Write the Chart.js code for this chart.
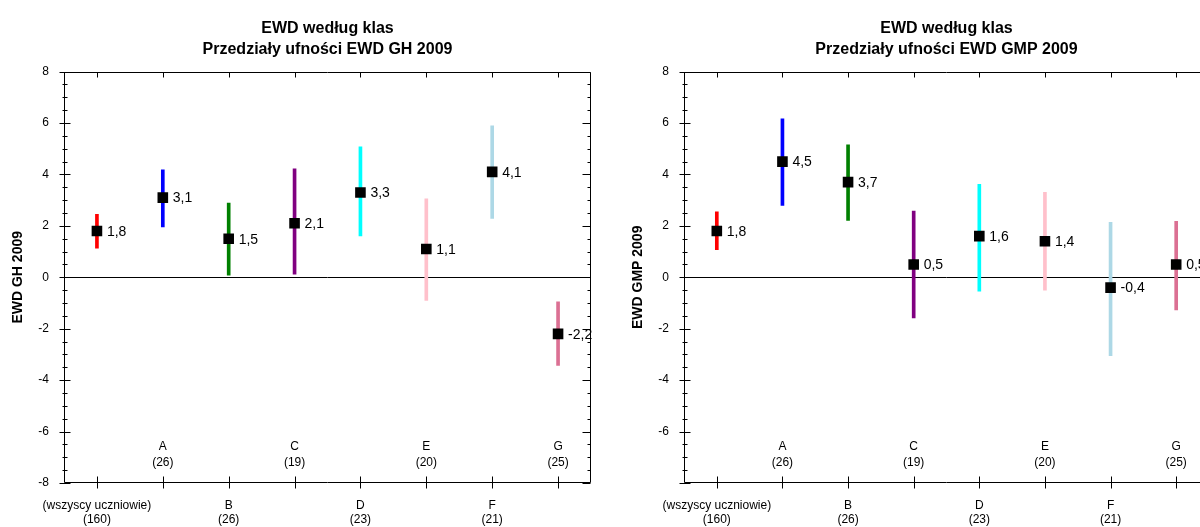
<!DOCTYPE html>
<html>
<head>
<meta charset="utf-8">
<script src="https://cdn.jsdelivr.net/npm/chart.js@4/dist/chart.umd.min.js"></script>
<style>
  html, body { margin: 0; padding: 0; background: #fff; }
  body { width: 1200px; height: 527px; overflow: hidden; position: relative; }
  .wykres { position: absolute; top: 0; width: 600px; height: 527px; }
</style>
</head>
<body>
<div class="wykres" style="left:0px"><canvas id="wykresGH"></canvas></div>
<div class="wykres" style="left:620px"><canvas id="wykresGMP"></canvas></div>
<script>
// klasy i liczba uczniow
var klasy = [
  ["(wszyscy uczniowie)", "(160)"],
  ["A", "(26)"],
  ["B", "(26)"],
  ["C", "(19)"],
  ["D", "(23)"],
  ["E", "(20)"],
  ["F", "(21)"],
  ["G", "(25)"]
]
var kolory = ["#ff0000", "#0000ff", "#008000", "#800080", "#00ffff", "#ffc0cb", "#add8e6", "#db7093"]

// EWD GH 2009
var ghWartosci = [1.8, 3.1, 1.5, 2.1, 3.3, 1.1, 4.1, -2.2]
var ghDolne = [1.13, 1.96, 0.08, 0.12, 1.61, -0.9, 2.29, -3.43]
var ghGorne = [2.45, 4.18, 2.89, 4.22, 5.07, 3.05, 5.89, -0.95]

// EWD GMP 2009
var gmpWartosci = [1.8, 4.5, 3.7, 0.5, 1.6, 1.4, -0.4, 0.5]
var gmpDolne = [1.07, 2.8, 2.21, -1.58, -0.54, -0.5, -3.05, -1.27]
var gmpGorne = [2.55, 6.16, 5.15, 2.58, 3.62, 3.3, 2.14, 2.18]

var osY = { min: -8, max: 8, krok: 0.5, co: 2 }

Chart.defaults.font.family = "'Liberation Sans', Arial, sans-serif"
Chart.defaults.color = "#000"

// ramka, kreski na osiach, etykiety wartosci i klas wewnatrz wykresu
var dodatki = {
  id: "dodatki",
  afterDatasetsDraw: function (chart) {
    var ctx = chart.ctx
    var a = chart.chartArea
    var sx = chart.scales.x
    var sy = chart.scales.y
    ctx.save()
    ctx.strokeStyle = "#000"
    ctx.lineWidth = 1
    var L = Math.round(a.left) + 0.5, R = Math.round(a.right) - 0.5
    var T = Math.round(a.top) + 0.5, B = Math.round(a.bottom) - 0.5
    ctx.beginPath()
    ctx.rect(L, T, R - L, B - T)
    ctx.stroke()

    ctx.beginPath()
    sy.ticks.forEach(function (t, i) {
      var y = Math.round(sy.getPixelForTick(i)) + 0.5
      var duza = t.value % osY.co === 0
      if (duza) {
        ctx.moveTo(L - 5, y); ctx.lineTo(L + 6, y)
        ctx.moveTo(R - 8, y); ctx.lineTo(R, y)
      } else {
        ctx.moveTo(L - 2, y); ctx.lineTo(L + 3, y)
        ctx.moveTo(R - 3, y); ctx.lineTo(R, y)
      }
    })
    sx.ticks.forEach(function (t, i) {
      var x = Math.round(sx.getPixelForTick(i)) + 0.5
      ctx.moveTo(x, B - 6); ctx.lineTo(x, B + 6)
      ctx.moveTo(x, T); ctx.lineTo(x, T + 5)
    })
    ctx.stroke()

    // klasy nieparzyste nad osia
    ctx.fillStyle = "#000"
    ctx.font = "12px 'Liberation Sans', Arial, sans-serif"
    ctx.textAlign = "center"
    ctx.textBaseline = "middle"
    klasy.forEach(function (k, i) {
      if (i % 2 === 1) {
        var x = sx.getPixelForTick(i)
        ctx.fillText(k[0], x, a.bottom - 36)
        ctx.fillText(k[1], x, a.bottom - 20)
      }
    })

    // wartosci przy punktach
    var meta = chart.getDatasetMeta(1)
    var wart = chart.data.datasets[1].data
    ctx.font = "14px 'Liberation Sans', Arial, sans-serif"
    ctx.textAlign = "left"
    meta.data.forEach(function (p, i) {
      ctx.fillText(String(wart[i]).replace(".", ","), p.x + 10, p.y + 1)
    })
    ctx.restore()
  }
}

function rysuj(id, tytul, tytulY, wartosci, dolne, gorne, prawyOdstep, pokazDol) {
  new Chart(document.getElementById(id), {
    type: "bar",
    data: {
      labels: klasy,
      datasets: [{
        data: dolne.map(function (d, i) { return [d, gorne[i]] }),
        backgroundColor: kolory,
        barThickness: 3,
        grouped: false,
        order: 2
      }, {
        type: "line",
        data: wartosci,
        showLine: false,
        pointStyle: "rect",
        pointRadius: 7.5,
        pointBackgroundColor: "#000",
        pointBorderWidth: 0,
        order: 1
      }]
    },
    options: {
      responsive: true,
      maintainAspectRatio: false,
      animation: false,
      events: [],
      layout: { padding: { right: prawyOdstep, top: 0, bottom: 0, left: 0 } },
      plugins: {
        legend: { display: false },
        tooltip: { enabled: false },
        title: {
          display: true,
          fullSize: false,
          text: tytul,
          color: "#000",
          font: { size: 16, weight: "bold", lineHeight: 1.3 },
          padding: { top: 18, bottom: 12 }
        }
      },
      scales: {
        x: {
          offset: true,
          grid: { display: false },
          border: { display: false },
          ticks: {
            autoSkip: false,
            maxRotation: 0,
            padding: 8,
            font: { size: 12, lineHeight: 1.15 },
            callback: function (v, i) { return i % 2 === 0 ? klasy[i] : "" }
          },
          afterFit: function (s) { s.height = 44 }
        },
        y: {
          min: osY.min,
          max: osY.max,
          grid: {
            drawTicks: false,
            color: function (c) { return c.tick && c.tick.value === 0 ? "#000" : "rgba(0,0,0,0)" }
          },
          border: { display: false },
          ticks: {
            stepSize: osY.krok,
            autoSkip: false,
            padding: 15,
            font: { size: 12 },
            callback: function (v) {
              if (v % osY.co !== 0) return ""
              if (v === osY.min && !pokazDol) return ""
              return String(v)
            }
          },
          title: {
            display: true,
            text: tytulY,
            color: "#000",
            font: { size: 14, weight: "bold" },
            padding: { top: 10, bottom: 0 }
          },
          afterFit: function (s) { s.width = 64 }
        }
      }
    },
    plugins: [dodatki]
  })
}

rysuj("wykresGH", ["EWD według klas", "Przedziały ufności EWD GH 2009"], "EWD GH 2009",
  ghWartosci, ghDolne, ghGorne, 9, true)
rysuj("wykresGMP", ["EWD według klas", "Przedziały ufności EWD GMP 2009"], "EWD GMP 2009",
  gmpWartosci, gmpDolne, gmpGorne, 11, false)
</script>
</body>
</html>
